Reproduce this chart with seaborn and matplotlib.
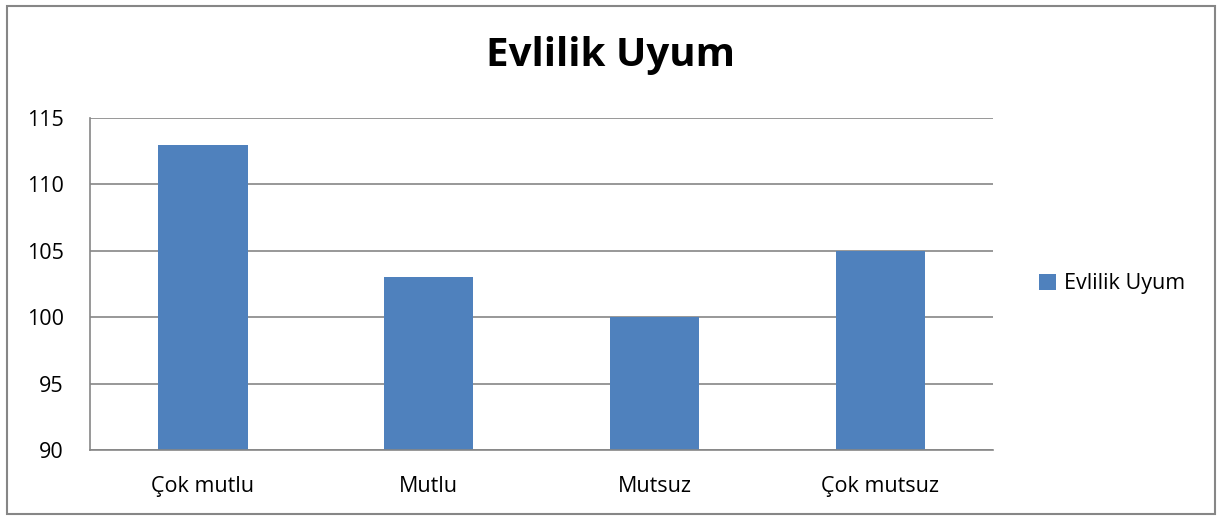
import matplotlib
matplotlib.use("Agg")
import matplotlib.pyplot as plt
import seaborn as sns
import pandas as pd
from matplotlib.patches import Rectangle

# data
categories = ["Çok mutlu", "Mutlu", "Mutsuz", "Çok mutsuz"]
values = [113, 103, 100, 105]
series_name = "Evlilik Uyum"
y_ticks = [90, 95, 100, 105, 110, 115]

df = pd.DataFrame({"kategori": categories, "deger": values, "seri": series_name})

sns.set_style("white")
plt.rcParams['font.family'] = ['Open Sans', 'DejaVu Sans']
plt.rcParams['text.color'] = 'black'

bar_color = "#4F81BD"
grid_color = "#868686"

fig = plt.figure(figsize=(12.22, 5.17), dpi=100)
ax = fig.add_axes([0.0737, 0.1296, 0.7389, 0.6422])

sns.barplot(data=df, x="kategori", y="deger", hue="seri", palette=[bar_color],
            width=0.395, ax=ax, saturation=1, legend=True, linewidth=0)

ax.set_ylim(90, 115)
ax.set_yticks(y_ticks)
ax.set_xlim(-0.5, len(categories) - 0.5)
ax.yaxis.grid(True, color=grid_color, linewidth=1.2)
ax.set_axisbelow(True)
ax.set_xlabel("")
ax.set_ylabel("")
ax.tick_params(axis="both", labelsize=15.5, length=0, colors="black")
ax.tick_params(axis="x", pad=19)
ax.tick_params(axis="y", pad=19)
for side in ["top", "right"]:
    ax.spines[side].set_visible(False)
for side in ["left", "bottom"]:
    ax.spines[side].set_color(grid_color)
    ax.spines[side].set_linewidth(1.2)

fig.suptitle(series_name, fontsize=29, fontweight="bold", y=0.93, color="black")

leg = ax.legend(loc="center left", bbox_to_anchor=(1.03, 0.5), frameon=False,
                fontsize=15.5, handlelength=0.75, handleheight=0.75, handletextpad=0.4)

# outer border of the chart area
fig.patches.append(Rectangle((0.006, 0.006), 0.988, 0.982, transform=fig.transFigure,
                             fill=False, edgecolor="#868686", linewidth=1.5))

fig.savefig("out.png", dpi=100)
